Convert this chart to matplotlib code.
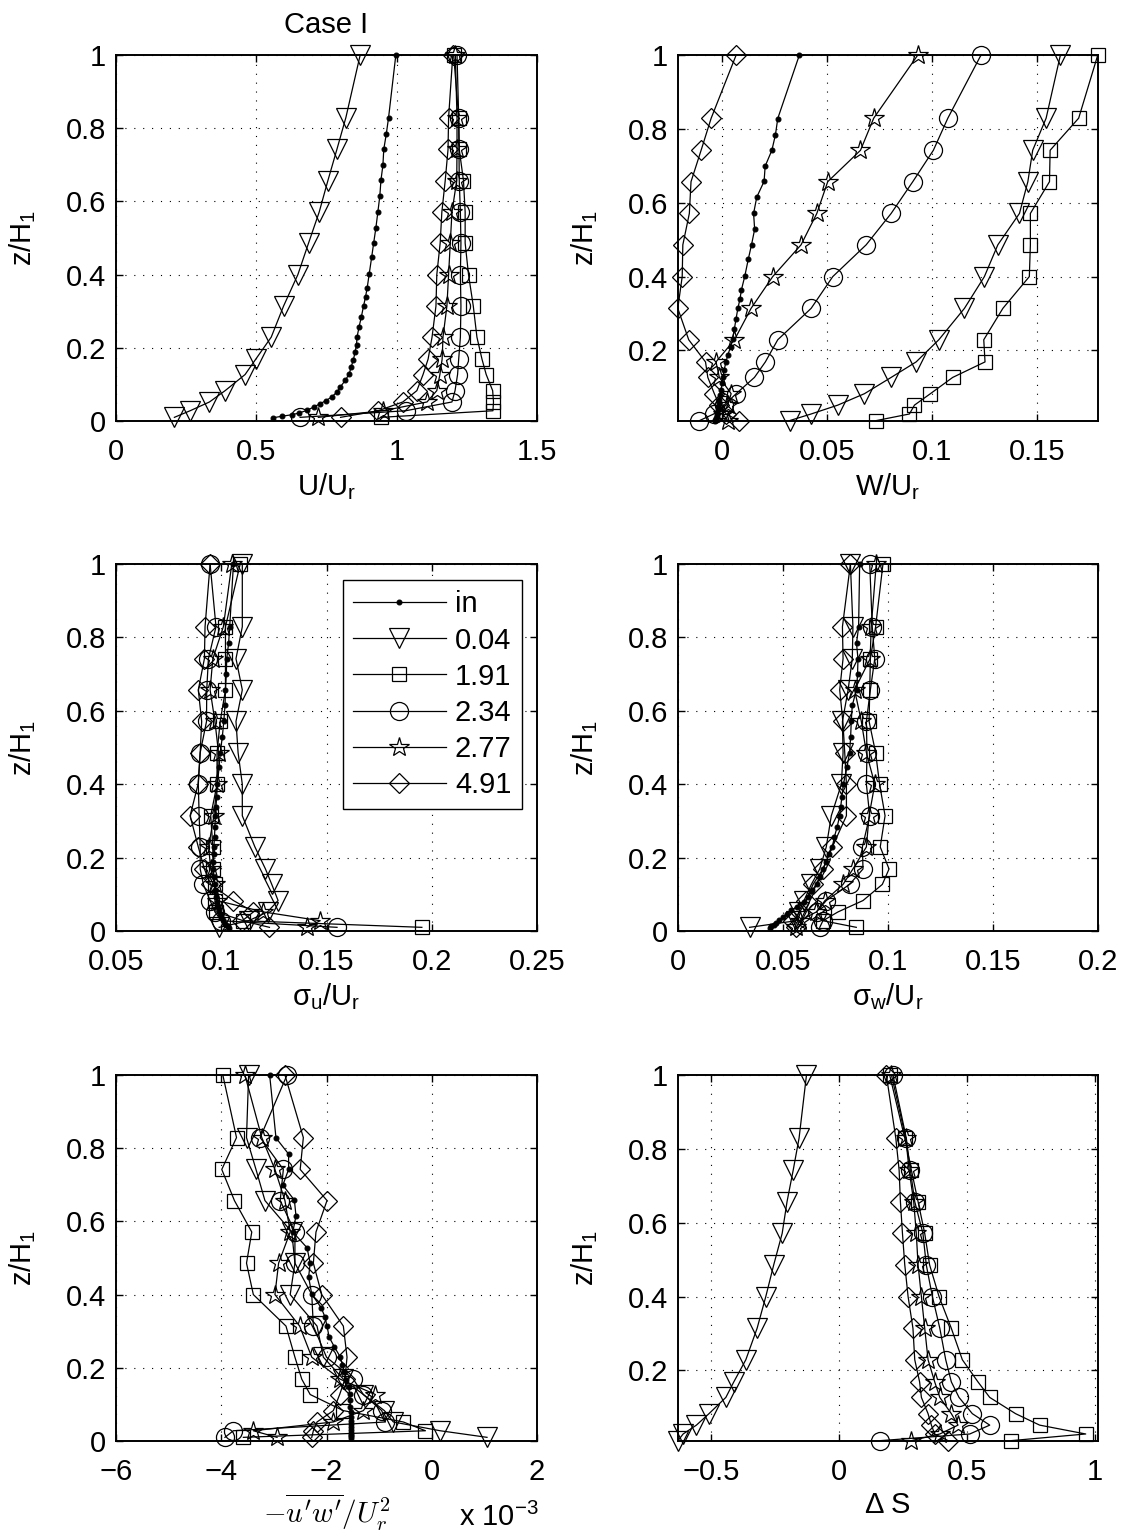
import matplotlib
matplotlib.use("Agg")
import matplotlib.pyplot as plt
from matplotlib.ticker import FixedLocator, FuncFormatter

plt.rcParams['font.family'] = ['Liberation Sans', 'DejaVu Sans']
plt.rcParams['mathtext.fontset'] = 'custom'
plt.rcParams['mathtext.rm'] = 'Liberation Sans'
plt.rcParams['mathtext.it'] = 'Liberation Sans:italic'

# heights of the marked profile points and of the inflow profile
z_m = [1.0, 0.829, 0.742, 0.657, 0.571, 0.486, 0.400, 0.314, 0.229, 0.169, 0.127, 0.083, 0.052, 0.028, 0.010]
z_in = [1.0, 0.828, 0.784, 0.742, 0.699, 0.658, 0.615, 0.571, 0.528, 0.486, 0.448, 0.401,
        0.364, 0.339, 0.314, 0.284, 0.257, 0.230, 0.209, 0.189, 0.168, 0.148, 0.129, 0.111,
        0.093, 0.079, 0.066, 0.056, 0.047, 0.038, 0.029, 0.022, 0.017, 0.013, 0.009]

labels = ['in', '0.04', '1.91', '2.34', '2.77', '4.91']

# U/Ur
U_in = [0.997, 0.971, 0.963, 0.954, 0.951, 0.944, 0.940, 0.933, 0.926, 0.918, 0.911, 0.902,
        0.895, 0.889, 0.882, 0.874, 0.866, 0.859, 0.857, 0.852, 0.846, 0.838, 0.831, 0.817,
        0.799, 0.787, 0.769, 0.749, 0.727, 0.704, 0.680, 0.653, 0.626, 0.591, 0.561]
U_004 = [0.870, 0.819, 0.787, 0.755, 0.724, 0.686, 0.648, 0.597, 0.553, 0.498, 0.460, 0.389, 0.333, 0.264, 0.208]
U_191 = [1.203, 1.221, 1.223, 1.238, 1.244, 1.244, 1.256, 1.273, 1.286, 1.304, 1.319, 1.342, 1.345, 1.343, 0.944]
U_234 = [1.215, 1.221, 1.222, 1.223, 1.227, 1.229, 1.227, 1.229, 1.227, 1.221, 1.217, 1.208, 1.197, 1.032, 0.656]
U_277 = [1.209, 1.215, 1.215, 1.214, 1.197, 1.191, 1.185, 1.179, 1.165, 1.162, 1.154, 1.143, 1.108, 0.952, 0.721]
U_491 = [1.200, 1.185, 1.183, 1.173, 1.161, 1.155, 1.143, 1.140, 1.126, 1.112, 1.094, 1.072, 1.022, 0.934, 0.800]

# W/Ur
W_in = [0.0368, 0.0265, 0.0254, 0.0237, 0.0205, 0.0200, 0.0165, 0.0150, 0.0155, 0.0140, 0.0125, 0.0108,
        0.0092, 0.0085, 0.0075, 0.0066, 0.0058, 0.0050, 0.0040, 0.0028, 0.0018, 0.0010, 0.0005, 0.0000,
        -0.0005, -0.0010, -0.0013, -0.0015, -0.0018, -0.0020, -0.0022, -0.0025, -0.0028, -0.0032, -0.0035]
W_004 = [0.1611, 0.1543, 0.1479, 0.1456, 0.1416, 0.1313, 0.1249, 0.1154, 0.1032, 0.0924, 0.0805, 0.0678, 0.0551, 0.0424, 0.0321]
W_191 = [0.1789, 0.1698, 0.1562, 0.1559, 0.1468, 0.1468, 0.1463, 0.1337, 0.1246, 0.1252, 0.1098, 0.0992, 0.0916, 0.0892, 0.0733]
W_234 = [0.1233, 0.1075, 0.1006, 0.0908, 0.0805, 0.0686, 0.0527, 0.0424, 0.0265, 0.0206, 0.0154, 0.0067, 0.0010, -0.0040, -0.0108]
W_277 = [0.0932, 0.0722, 0.0659, 0.0503, 0.0451, 0.0376, 0.0241, 0.0138, 0.0059, -0.0029, -0.0013, 0.0043, 0.0027, 0.0003, 0.0027]
W_491 = [0.0067, -0.0052, -0.0100, -0.0148, -0.0156, -0.0187, -0.0190, -0.0211, -0.0159, -0.0079, -0.0068, -0.0037, -0.0013, 0.0019, 0.0079]

# sigma_u/Ur
su_in = [0.1058, 0.1040, 0.1035, 0.1026, 0.1024, 0.1020, 0.1018, 0.1012, 0.1005, 0.0995, 0.0990, 0.0982,
         0.0978, 0.0975, 0.0972, 0.0970, 0.0968, 0.0965, 0.0965, 0.0963, 0.0963, 0.0965, 0.0968, 0.0970,
         0.0975, 0.0980, 0.0985, 0.0990, 0.0995, 0.1000, 0.1008, 0.1015, 0.1022, 0.1030, 0.1035]
su_004 = [0.110, 0.110, 0.107, 0.110, 0.107, 0.108, 0.110, 0.110, 0.116, 0.121, 0.124, 0.127, 0.122, 0.113, 0.099]
su_191 = [0.109, 0.102, 0.102, 0.102, 0.0995, 0.098, 0.098, 0.095, 0.096, 0.096, 0.097, 0.097, 0.0975, 0.1105, 0.1953]
su_234 = [0.0947, 0.0975, 0.0939, 0.0931, 0.093, 0.090, 0.0891, 0.0895, 0.090, 0.090, 0.0915, 0.0947, 0.097, 0.100, 0.155]
su_277 = [0.105, 0.101, 0.096, 0.0947, 0.097, 0.0987, 0.098, 0.0965, 0.094, 0.095, 0.097, 0.098, 0.120, 0.147, 0.1407]
su_491 = [0.0947, 0.0923, 0.092, 0.0891, 0.0907, 0.090, 0.089, 0.0852, 0.0891, 0.092, 0.095, 0.1058, 0.1153, 0.110, 0.1229]

# sigma_w/Ur
sw_in = [0.0865, 0.0860, 0.0850, 0.0857, 0.0855, 0.0850, 0.0830, 0.0825, 0.0822, 0.0817, 0.0805, 0.0788,
         0.0780, 0.0775, 0.0770, 0.0758, 0.0745, 0.0735, 0.0720, 0.0705, 0.0690, 0.0675, 0.0660, 0.0640,
         0.0620, 0.0600, 0.0565, 0.0540, 0.0520, 0.0500, 0.0480, 0.0465, 0.0455, 0.0445, 0.0437]
sw_004 = [0.0821, 0.0833, 0.0830, 0.0810, 0.0783, 0.0786, 0.0778, 0.0730, 0.0706, 0.0675, 0.0635, 0.0600, 0.0575, 0.0563, 0.0341]
sw_191 = [0.0976, 0.0941, 0.0916, 0.0913, 0.0910, 0.0941, 0.0960, 0.0986, 0.0963, 0.1005, 0.0973, 0.0881, 0.0762, 0.0690, 0.0849]
sw_234 = [0.0913, 0.0925, 0.0937, 0.0916, 0.0897, 0.0900, 0.0897, 0.0913, 0.0878, 0.0881, 0.0817, 0.0706, 0.0660, 0.0690, 0.0675]
sw_277 = [0.0944, 0.0920, 0.0915, 0.0841, 0.0873, 0.0897, 0.0937, 0.0910, 0.0897, 0.0833, 0.0786, 0.0700, 0.0659, 0.0580, 0.0563]
sw_491 = [0.0821, 0.0783, 0.0786, 0.0770, 0.0785, 0.0794, 0.0802, 0.0802, 0.0735, 0.0690, 0.0643, 0.0611, 0.0580, 0.0548, 0.0563]

# -u'w'/Ur^2, in units of 1e-3
uw_in = [-3.08, -2.96, -2.72, -2.72, -2.83, -2.61, -2.58, -2.64, -2.37, -2.31, -2.34, -2.28,
         -2.10, -2.03, -1.99, -1.95, -1.85, -1.74, -1.70, -1.66, -1.62, -1.58, -1.56, -1.55,
         -1.55, -1.54, -1.54, -1.54, -1.54, -1.54, -1.54, -1.54, -1.54, -1.54, -1.54]
uw_004 = [-3.48, -3.52, -3.34, -3.17, -2.66, -2.60, -2.69, -2.18, -2.06, -1.68, -1.30, -0.90, -0.73, 0.16, 1.05]
uw_191 = [-3.97, -3.71, -3.99, -3.75, -3.42, -3.52, -3.39, -2.77, -2.60, -2.47, -2.31, -1.68, -0.54, -0.12, -3.58]
uw_234 = [-2.75, -3.26, -2.82, -2.88, -2.60, -2.60, -2.28, -2.25, -2.00, -1.49, -1.30, -0.95, -0.88, -3.77, -3.93]
uw_277 = [-3.55, -3.23, -2.98, -2.79, -2.69, -2.91, -2.98, -2.51, -2.28, -1.74, -1.07, -1.30, -1.87, -3.39, -2.94]
uw_491 = [-2.79, -2.44, -2.50, -1.99, -2.20, -2.25, -2.09, -1.68, -1.61, -1.65, -1.75, -1.87, -2.18, -2.25, -2.28]

# Delta S (no inflow profile)
dS_004 = [-0.126, -0.155, -0.178, -0.202, -0.221, -0.254, -0.285, -0.319, -0.363, -0.410, -0.441, -0.507, -0.556, -0.608, -0.628]
dS_191 = [0.199, 0.258, 0.284, 0.310, 0.336, 0.355, 0.392, 0.440, 0.483, 0.544, 0.590, 0.691, 0.785, 0.965, 0.674]
dS_234 = [0.212, 0.264, 0.280, 0.297, 0.329, 0.342, 0.366, 0.395, 0.418, 0.440, 0.470, 0.522, 0.590, 0.512, 0.163]
dS_277 = [0.206, 0.262, 0.275, 0.293, 0.303, 0.310, 0.323, 0.336, 0.349, 0.375, 0.395, 0.440, 0.466, 0.395, 0.284]
dS_491 = [0.186, 0.223, 0.236, 0.241, 0.249, 0.258, 0.271, 0.290, 0.297, 0.316, 0.323, 0.349, 0.362, 0.375, 0.427]

W, H = 1126, 1534
fig = plt.figure(figsize=(W / 100, H / 100), dpi=100)

def new_axes(left, top, right, bottom):
    return fig.add_axes([left / W, 1 - bottom / H, (right - left) / W, (bottom - top) / H])

fmt = FuncFormatter(lambda v, p: ('%g' % v).replace('-', '\u2212'))

styles = [dict(marker='o', ms=3.5, mfc='k'),
          dict(marker='v', ms=14),
          dict(marker='s', ms=10),
          dict(marker='o', ms=13),
          dict(marker='*', ms=15),
          dict(marker='D', ms=10)]

def draw(ax, xin, series, xlim, xticks, ylim, yticks, xlabel):
    if xin is not None:
        ax.plot(xin, z_in, color='k', lw=0.9, mec='k', mew=0.8, clip_on=False, **styles[0])
    for s, st in zip(series, styles[1:]):
        ax.plot(s, z_m, color='k', lw=0.9, mfc='none', mec='k', mew=0.9, clip_on=False, **st)
    ax.set_xlim(xlim)
    ax.set_ylim(ylim)
    ax.xaxis.set_major_locator(FixedLocator(xticks))
    ax.yaxis.set_major_locator(FixedLocator(yticks))
    ax.xaxis.set_major_formatter(fmt)
    ax.yaxis.set_major_formatter(fmt)
    ax.tick_params(direction='in', length=5, width=1, labelsize=21, top=True, right=True)
    ax.tick_params(axis='x', pad=12)
    ax.tick_params(axis='y', pad=7)
    ax.grid(True, color='k', lw=0.8, linestyle=(0, (1, 7)))
    for sp in ax.spines.values():
        sp.set_linewidth(1.4)
    ax.set_ylabel('z/H$_\\mathrm{1}$', fontsize=21, labelpad=20)
    if xlabel is not None:
        ax.set_xlabel(xlabel, fontsize=21, labelpad=4)

ax1 = new_axes(116, 55, 537, 421)
draw(ax1, U_in, [U_004, U_191, U_234, U_277, U_491], (0, 1.5), [0, 0.5, 1, 1.5],
     (0, 1), [0, 0.2, 0.4, 0.6, 0.8, 1], 'U/U$_\\mathrm{r}$')
ax1.set_title('Case I', fontsize=21, pad=16)

ax2 = new_axes(678, 55, 1098, 421)
draw(ax2, W_in, [W_004, W_191, W_234, W_277, W_491], (-0.021, 0.179), [0, 0.05, 0.1, 0.15],
     (0.009, 1), [0.2, 0.4, 0.6, 0.8, 1], 'W/U$_\\mathrm{r}$')

ax3 = new_axes(116, 564, 537, 931)
draw(ax3, su_in, [su_004, su_191, su_234, su_277, su_491], (0.05, 0.25), [0.05, 0.1, 0.15, 0.2, 0.25],
     (0, 1), [0, 0.2, 0.4, 0.6, 0.8, 1], '\u03c3$_\\mathrm{u}$/U$_\\mathrm{r}$')
leg = ax3.legend(labels, loc='upper right', bbox_to_anchor=(0.964, 0.956), borderaxespad=0,
                 fontsize=21, handlelength=3.2, labelspacing=0.28, handletextpad=0.3,
                 borderpad=0.35, fancybox=False, framealpha=1, edgecolor='k', numpoints=1)
leg.get_frame().set_linewidth(1.0)

ax4 = new_axes(678, 564, 1098, 931)
draw(ax4, sw_in, [sw_004, sw_191, sw_234, sw_277, sw_491], (0, 0.2), [0, 0.05, 0.1, 0.15, 0.2],
     (0, 1), [0, 0.2, 0.4, 0.6, 0.8, 1], '\u03c3$_\\mathrm{w}$/U$_\\mathrm{r}$')

ax5 = new_axes(116, 1075, 537, 1441)
draw(ax5, uw_in, [uw_004, uw_191, uw_234, uw_277, uw_491], (-6, 2), [-6, -4, -2, 0, 2],
     (0, 1), [0, 0.2, 0.4, 0.6, 0.8, 1], None)
ax5.text(0.5, -0.14, r"$-\overline{u^\prime w^\prime}/U_r^2$", transform=ax5.transAxes,
         ha='center', va='top', fontsize=21, math_fontfamily='cm')
ax5.text(0.815, -0.17, 'x 10$^{\\mathrm{\u22123}}$', transform=ax5.transAxes,
         ha='left', va='top', fontsize=21)

ax6 = new_axes(678, 1075, 1098, 1441)
draw(ax6, None, [dS_004, dS_191, dS_234, dS_277, dS_491], (-0.628, 1.013), [-0.5, 0, 0.5, 1],
     (0.009, 1), [0.2, 0.4, 0.6, 0.8, 1], '\u0394 S')

fig.savefig('out.png', dpi=100)
